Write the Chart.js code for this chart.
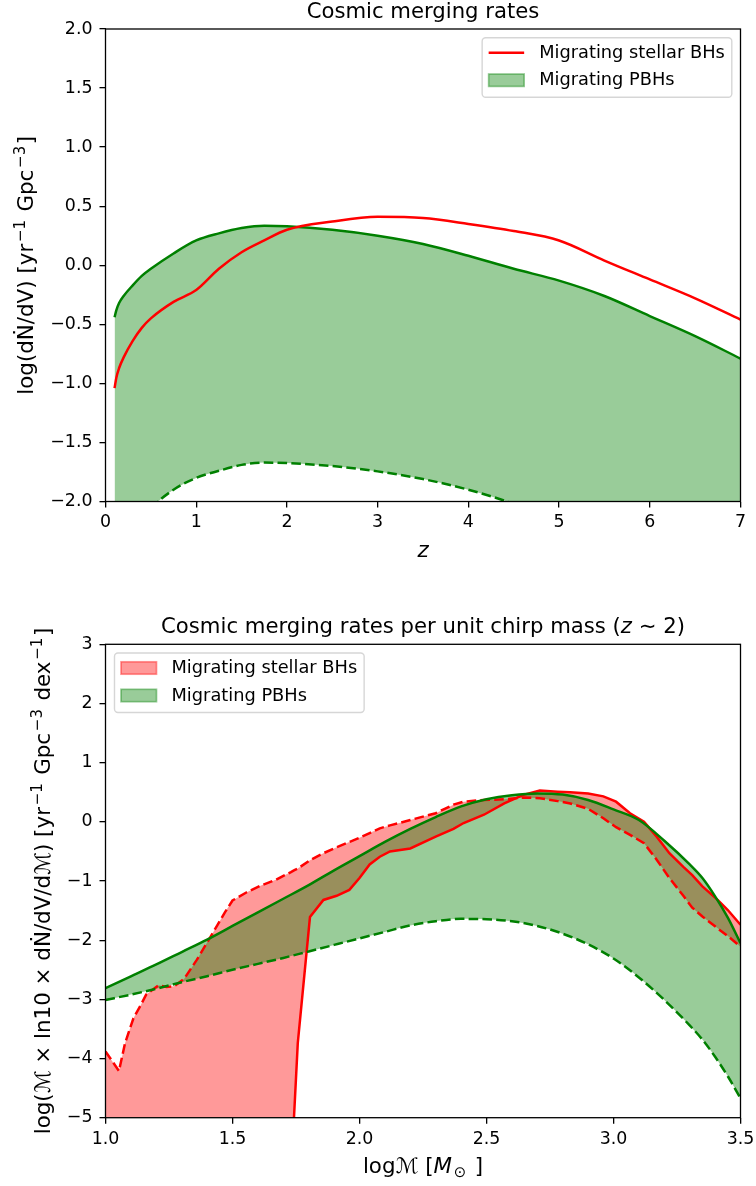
<!DOCTYPE html>
<html>
<head>
<meta charset="utf-8">
<script src="https://cdn.jsdelivr.net/npm/chart.js@4.4.1/dist/chart.umd.min.js"></script>
<style>
  html, body { margin: 0; padding: 0; background: #fff; }
  #page { position: relative; width: 756px; height: 1186px; }
  canvas { position: absolute; left: 0; }
  #rateZ { top: 0; }
  #rateMass { top: 590px; }
</style>
</head>
<body>
<div id="page">
  <canvas id="rateZ" width="756" height="590"></canvas>
  <canvas id="rateMass" width="756" height="596"></canvas>
</div>
<script>
// merging rate vs redshift
const redshift = [0.1, 0.12, 0.15, 0.2, 0.3, 0.4, 0.5, 0.75, 1.0, 1.25, 1.5, 1.75, 2.0, 2.5, 3.0, 3.5, 4.0, 4.5, 5.0, 5.5, 6.0, 6.5, 7.0];
const stellarRateZ = [-1.04, -0.95, -0.87, -0.78, -0.64, -0.53, -0.45, -0.31, -0.21, -0.03, 0.11, 0.21, 0.30, 0.37, 0.41, 0.40, 0.35, 0.29, 0.21, 0.04, -0.12, -0.28, -0.46];
const pbhRateZHigh = [-0.44, -0.38, -0.32, -0.26, -0.17, -0.09, -0.03, 0.10, 0.21, 0.27, 0.315, 0.335, 0.33, 0.30, 0.25, 0.18, 0.08, -0.03, -0.13, -0.26, -0.43, -0.60, -0.79];
const pbhRateZLow = [-2.55, -2.52, -2.48, -2.40, -2.27, -2.16, -2.06, -1.90, -1.80, -1.74, -1.69, -1.67, -1.675, -1.70, -1.745, -1.81, -1.90, -2.02, -2.17, -2.34, -2.53, -2.74, -2.97];

// rate per unit chirp mass at z ~ 2
const chirpMassStellar = [1.0, 1.053, 1.077, 1.11, 1.136, 1.16, 1.21, 1.24, 1.27, 1.31, 1.36, 1.40, 1.44, 1.47, 1.50, 1.556, 1.61, 1.67, 1.73, 1.742,
  1.757, 1.805, 1.858, 1.91, 1.96, 2.0, 2.04, 2.08, 2.12, 2.20, 2.30, 2.37, 2.41, 2.49, 2.57, 2.645, 2.71, 2.78, 2.83, 2.90,
  2.96, 3.01, 3.065, 3.12, 3.17, 3.22, 3.275, 3.31, 3.35, 3.41, 3.45, 3.5];
const stellarUpper = [-3.88, -4.21, -3.74, -3.32, -3.12, -2.92, -2.76, -2.79, -2.78, -2.65, -2.33, -2.04, -1.75, -1.53, -1.33, -1.19, -1.08, -0.98, -0.85, -0.82,
  -0.79, -0.65, -0.53, -0.43, -0.34, -0.27, -0.19, -0.11, -0.06, 0.03, 0.145, 0.29, 0.34, 0.37, 0.38, 0.41, 0.40, 0.35, 0.31, 0.22,
  0.06, -0.09, -0.22, -0.36, -0.64, -0.95, -1.25, -1.45, -1.60, -1.80, -1.93, -2.11];
const stellarLower = [-9, -9, -9, -9, -9, -9, -9, -9, -9, -9, -9, -9, -9, -9, -9, -9, -9, -9, -9, -5.0,
  -3.74, -1.61, -1.32, -1.25, -1.15, -0.95, -0.72, -0.59, -0.50, -0.45, -0.25, -0.12, -0.02, 0.12, 0.31, 0.455, 0.53, 0.51, 0.50, 0.48,
  0.43, 0.34, 0.145, 0.0, -0.25, -0.53, -0.76, -0.90, -1.09, -1.32, -1.49, -1.74];
const chirpMassPbh = [1.0, 1.1, 1.2, 1.3, 1.4, 1.5, 1.6, 1.7, 1.8, 1.9, 2.0, 2.1, 2.2, 2.3, 2.4, 2.5, 2.6, 2.7, 2.8, 2.9, 3.0, 3.1, 3.2, 3.3, 3.35, 3.4, 3.45, 3.5];
const pbhUpper = [-2.81, -2.61, -2.41, -2.20, -1.99, -1.76, -1.53, -1.30, -1.07, -0.82, -0.58, -0.34, -0.12, 0.08, 0.26, 0.38, 0.45, 0.48, 0.46, 0.37,
  0.21, 0.03, -0.32, -0.72, -0.95, -1.26, -1.62, -2.05];
const pbhLower = [-3.01, -2.92, -2.82, -2.71, -2.61, -2.50, -2.40, -2.30, -2.19, -2.08, -1.97, -1.86, -1.75, -1.68, -1.64, -1.645, -1.68, -1.76, -1.89, -2.07,
  -2.31, -2.63, -3.01, -3.44, -3.68, -3.97, -4.30, -4.67];

const SANS = '"DejaVu Sans", sans-serif';
const RED = '#ff0000';
const GREEN = '#008000';
const RED_FILL = 'rgba(255,0,0,0.4)';
const GREEN_FILL = 'rgba(0,128,0,0.4)';
const LW = 2.5;
const DASH = [9.6, 4.2];
const TITLE_SIZE = 21.2;
const LABEL_SIZE = 21.4;
const TICK_SIZE = 17.4;
const LEGEND_SIZE = 17.8;

const pts = (xs, ys) => xs.map((x, i) => ({ x: x, y: ys[i] }));
const fmt = (v, digits) => (v < 0 ? '\u2212' : '') + Math.abs(v).toFixed(digits);

// text with italic / super- / subscript pieces, centred on (x, y) baseline
function drawRich(ctx, parts, size, x, y, rotate) {
  const fontFor = p => (p.it ? 'italic ' : '') + ((p.sup || p.sub) ? size * 0.7 : size) + 'px ' + SANS;
  const gap = p => (p.sup || p.sub) ? size * 0.08 : 0;
  ctx.save();
  ctx.translate(x, y);
  if (rotate) ctx.rotate(-Math.PI / 2);
  let w = 0;
  parts.forEach(p => { ctx.font = fontFor(p); w += ctx.measureText(p.t).width + 2 * gap(p); });
  let cx = -w / 2;
  ctx.textAlign = 'left';
  ctx.textBaseline = 'alphabetic';
  ctx.fillStyle = '#000';
  parts.forEach(p => {
    ctx.font = fontFor(p);
    const dy = p.sup ? -size * 0.38 : p.sub ? size * 0.22 : 0;
    cx += gap(p);
    ctx.fillText(p.t, cx, dy);
    cx += ctx.measureText(p.t).width + gap(p);
  });
  ctx.restore();
}

function drawLegend(chart, side) {
  const { ctx, chartArea: a } = chart;
  const items = chart.data.datasets.filter(d => d.legendKind);
  ctx.save();
  ctx.font = LEGEND_SIZE + 'px ' + SANS;
  const tw = Math.max(...items.map(d => ctx.measureText(d.label).width));
  const w = 57 + tw + 7, h = 59.5;
  const x = side === 'right' ? a.right - 8.7 - w : a.left + 9;
  const y = a.top + 8.7;
  ctx.beginPath();
  ctx.roundRect(x, y, w, h, 3.5);
  ctx.fillStyle = 'rgba(255,255,255,0.8)';
  ctx.fill();
  ctx.strokeStyle = 'rgba(204,204,204,0.8)';
  ctx.lineWidth = 1.4;
  ctx.stroke();
  items.forEach((d, i) => {
    const cy = y + 15 + i * 27.5;
    if (d.legendKind === 'line') {
      ctx.beginPath();
      ctx.moveTo(x + 6.5, cy);
      ctx.lineTo(x + 42, cy);
      ctx.strokeStyle = d.borderColor;
      ctx.lineWidth = d.borderWidth;
      ctx.stroke();
    } else {
      ctx.fillStyle = d.backgroundColor;
      ctx.fillRect(x + 6.5, cy - 6.2, 35.5, 12.4);
      ctx.strokeStyle = d.backgroundColor;
      ctx.lineWidth = 1.7;
      ctx.strokeRect(x + 6.5, cy - 6.2, 35.5, 12.4);
    }
    ctx.fillStyle = '#000';
    ctx.textAlign = 'left';
    ctx.textBaseline = 'middle';
    ctx.fillText(d.label, x + 57, cy + 0.5);
  });
  ctx.restore();
}

// axes frame, titles and legend in matplotlib style
const mplFrame = {
  id: 'mplFrame',
  afterDraw(chart, args, opts) {
    const { ctx, chartArea: a } = chart;
    ctx.save();
    ctx.strokeStyle = '#000';
    ctx.lineWidth = 1.3;
    ctx.strokeRect(a.left, a.top, a.right - a.left, a.bottom - a.top);
    ctx.restore();
    const cx = (a.left + a.right) / 2;
    drawRich(ctx, opts.title, TITLE_SIZE, cx, a.top - 11, false);
    drawRich(ctx, opts.xLabel, LABEL_SIZE, cx, a.bottom + 55, false);
    drawRich(ctx, opts.yLabel, LABEL_SIZE, opts.yLabelX, (a.top + a.bottom) / 2, true);
    drawLegend(chart, opts.legendSide);
  }
};

function axis(min, max, step, digits, pad, size) {
  return {
    type: 'linear',
    min: min,
    max: max,
    ticks: {
      stepSize: step, padding: pad, color: '#000', autoSkip: false, maxRotation: 0,
      font: { family: SANS, size: TICK_SIZE },
      callback: v => fmt(v, digits)
    },
    grid: { display: true, drawOnChartArea: false, drawTicks: true, tickLength: 6, tickWidth: 1.3, tickColor: '#000', color: '#000', lineWidth: 1.3 },
    border: { display: false },
    afterFit: s => {
      if (s.isHorizontal()) {
        s.height = size;
        s.paddingLeft = 0;
        s.paddingRight = 0;
      } else {
        s.width = size;
      }
    }
  };
}

const common = {
  responsive: false,
  animation: false,
  devicePixelRatio: 1,
  events: [],
  elements: { point: { radius: 0 } }
};

new Chart(document.getElementById('rateZ').getContext('2d'), {
  type: 'line',
  data: {
    datasets: [
      { label: 'Migrating stellar BHs', legendKind: 'line', data: pts(redshift, stellarRateZ),
        borderColor: RED, borderWidth: LW, cubicInterpolationMode: 'monotone', fill: false },
      { label: 'Migrating PBHs', legendKind: 'patch', data: pts(redshift, pbhRateZHigh),
        borderColor: GREEN, borderWidth: LW, backgroundColor: GREEN_FILL, cubicInterpolationMode: 'monotone', fill: '+1' },
      { label: 'PBHs lower', data: pts(redshift, pbhRateZLow),
        borderColor: GREEN, borderWidth: LW, borderDash: DASH, cubicInterpolationMode: 'monotone', fill: false }
    ]
  },
  options: Object.assign({}, common, {
    layout: { padding: { top: 29, right: 15.5, left: 0, bottom: 0 } },
    scales: {
      x: axis(0, 7, 1, 0, 5, 88.5),
      y: axis(-2, 2, 0.5, 1, 7, 105.5)
    },
    plugins: {
      legend: { display: false },
      tooltip: { enabled: false },
      filler: { drawTime: 'beforeDatasetsDraw', propagate: false },
      mplFrame: {
        title: [{ t: 'Cosmic merging rates' }],
        xLabel: [{ t: 'z', it: true }],
        yLabel: [{ t: 'log(dṄ/dV) [yr' }, { t: '\u22121', sup: true }, { t: ' Gpc' }, { t: '\u22123', sup: true }, { t: ']' }],
        yLabelX: 33,
        legendSide: 'right'
      }
    }
  }),
  plugins: [mplFrame]
});

new Chart(document.getElementById('rateMass').getContext('2d'), {
  type: 'line',
  data: {
    datasets: [
      { label: 'Migrating stellar BHs', legendKind: 'patch', order: 1, data: pts(chirpMassStellar, stellarUpper),
        borderColor: RED, borderWidth: LW, borderDash: DASH, backgroundColor: RED_FILL, tension: 0, fill: '+1' },
      { label: 'stellar lower', order: 1, data: pts(chirpMassStellar, stellarLower),
        borderColor: RED, borderWidth: LW, tension: 0, fill: false },
      { label: 'Migrating PBHs', legendKind: 'patch', order: 0, data: pts(chirpMassPbh, pbhUpper),
        borderColor: GREEN, borderWidth: LW, backgroundColor: GREEN_FILL, cubicInterpolationMode: 'monotone', fill: '+1' },
      { label: 'PBHs lower', order: 0, data: pts(chirpMassPbh, pbhLower),
        borderColor: GREEN, borderWidth: LW, borderDash: DASH, cubicInterpolationMode: 'monotone', fill: false }
    ]
  },
  options: Object.assign({}, common, {
    layout: { padding: { top: 54.3, right: 15.5, left: 0, bottom: 0 } },
    scales: {
      x: axis(1, 3.5, 0.5, 1, 5, 68.3),
      y: axis(-5, 3, 1, 0, 7, 105.5)
    },
    plugins: {
      legend: { display: false },
      tooltip: { enabled: false },
      filler: { drawTime: 'beforeDatasetsDraw', propagate: false },
      mplFrame: {
        title: [{ t: 'Cosmic merging rates per unit chirp mass (' }, { t: 'z', it: true }, { t: ' \u223c 2)' }],
        xLabel: [{ t: 'log' }, { t: '\u2133' }, { t: ' [' }, { t: 'M', it: true }, { t: '\u2299', sub: true }, { t: ' ]' }],
        yLabel: [{ t: 'log(' }, { t: '\u2133' }, { t: ' \u00d7 ln10 \u00d7 dṄ/dV/d' }, { t: '\u2133' }, { t: ') [yr' },
          { t: '\u22121', sup: true }, { t: ' Gpc' }, { t: '\u22123', sup: true }, { t: ' dex' }, { t: '\u22121', sup: true }, { t: ']' }],
        yLabelX: 50,
        legendSide: 'left'
      }
    }
  }),
  plugins: [mplFrame]
});
</script>
</body>
</html>
